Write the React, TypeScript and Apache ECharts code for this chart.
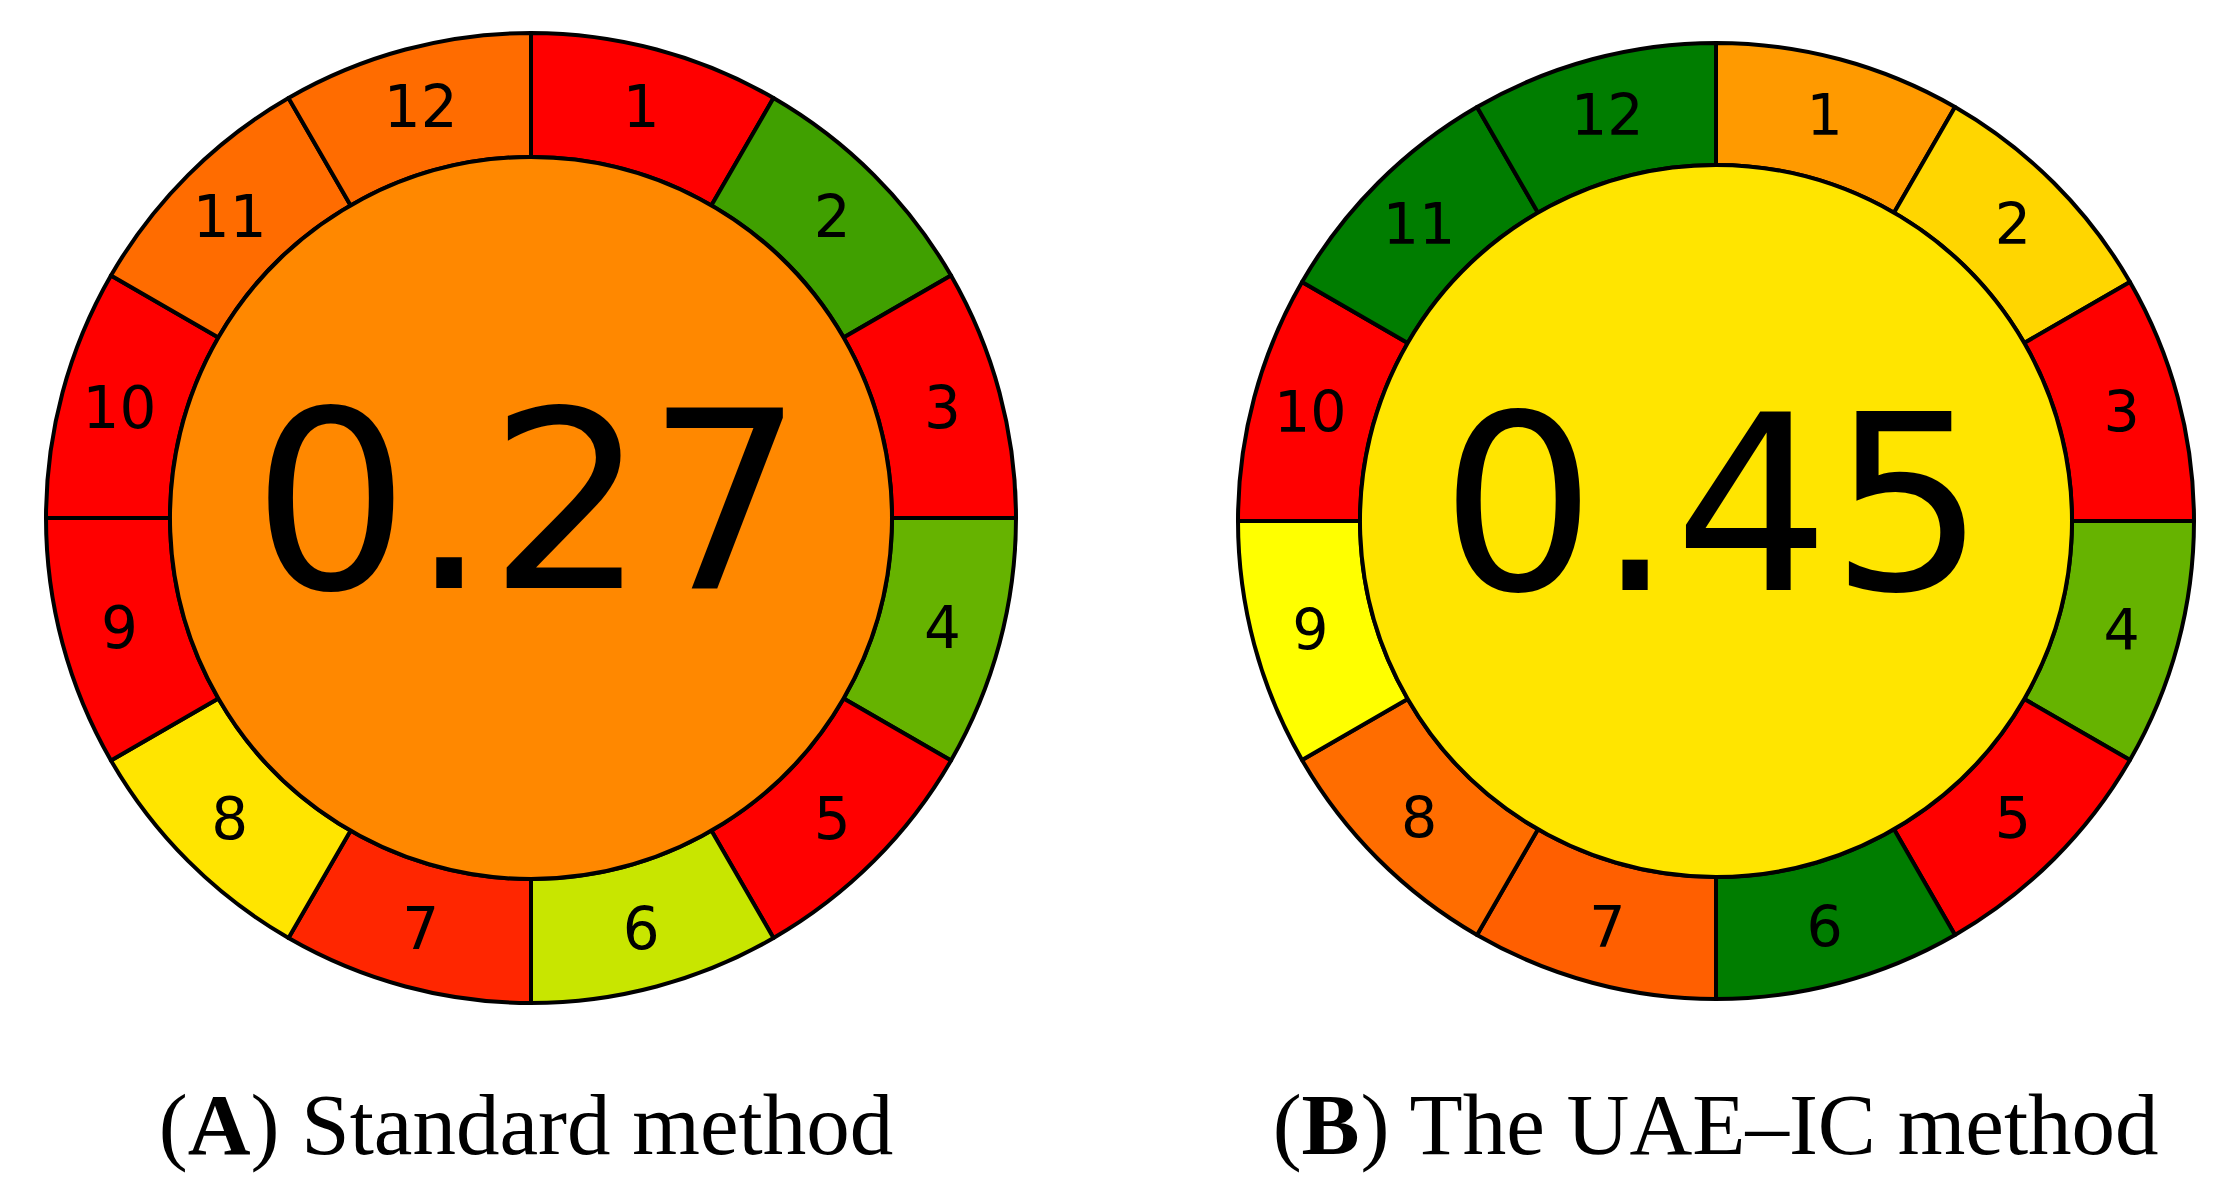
import React, { useEffect, useRef } from "react";
import * as echarts from "echarts";

// Segment names (criteria 1..12), drawn clockwise from 12 o'clock
const segmentNames = ["1", "2", "3", "4", "5", "6", "7", "8", "9", "10", "11", "12"];
// All criteria weighted equally (equal slice sizes)
const segmentWeights = [1, 1, 1, 1, 1, 1, 1, 1, 1, 1, 1, 1];

// (A) Standard method
const scoreA = "0.27";
const centerColorA = "#ff8800";
const segmentColorsA = [
  "#ff0000", "#40a000", "#ff0000", "#66b300", "#ff0000", "#c8e600",
  "#ff2600", "#ffe500", "#ff0000", "#ff0000", "#ff6c00", "#ff6c00",
];
const captionA = { label: "A", text: ") Standard method" };

// (B) The UAE–IC method
const scoreB = "0.45";
const centerColorB = "#ffe500";
const segmentColorsB = [
  "#ff9a00", "#ffd600", "#ff0000", "#66b300", "#ff0000", "#007d00",
  "#ff5f00", "#ff6d00", "#ffff00", "#ff0000", "#007d00", "#007d00",
];
const captionB = { label: "B", text: ") The UAE\u2013IC method" };

function buildPies(
  center: [number, number],
  rInner: number,
  rOuter: number,
  score: string,
  centerColor: string,
  colors: string[],
  labelSize: number,
  scoreSize: number
) {
  const ring = {
    type: "pie",
    center,
    radius: [rInner, rOuter],
    startAngle: 90,
    clockwise: true,
    silent: true,
    emphasis: { disabled: true },
    avoidLabelOverlap: false,
    itemStyle: { borderColor: "#000", borderWidth: 4 },
    label: {
      show: true,
      position: "inside",
      formatter: "{b}",
      color: "#000",
      fontSize: labelSize,
      fontFamily: "DejaVu Sans",
      textBorderWidth: 0,
    },
    labelLine: { show: false },
    data: segmentNames.map((n, i) => ({
      name: n,
      value: segmentWeights[i],
      itemStyle: { color: colors[i] },
    })),
  };
  const disk = {
    type: "pie",
    center,
    radius: [0, rInner],
    silent: true,
    emphasis: { disabled: true },
    itemStyle: { borderColor: "#000", borderWidth: 4 },
    label: {
      show: true,
      position: "center",
      formatter: "{b}",
      color: "#000",
      fontSize: scoreSize,
      fontFamily: "DejaVu Sans",
      offset: [-3, -16],
    },
    labelLine: { show: false },
    data: [{ name: score, value: 1, itemStyle: { color: centerColor } }],
  };
  return [ring, disk];
}

function caption(x: number, y: number, c: { label: string; text: string }) {
  const base = { fontFamily: "Liberation Serif", fontSize: 87, color: "#000" };
  return {
    type: "text",
    x,
    y,
    silent: true,
    style: {
      text: `{p|(}{b|${c.label}}{p|${c.text}}`,
      align: "center",
      verticalAlign: "middle",
      fontFamily: "Liberation Serif",
      fontSize: 87,
      fill: "#000",
      rich: {
        p: { ...base },
        b: { ...base, fontWeight: "bold" },
      },
    },
  };
}

export default function App() {
  const ref = useRef<HTMLDivElement>(null);
  useEffect(() => {
    if (!ref.current) return;
    const chart = echarts.init(ref.current, null, { renderer: "svg" });
    chart.setOption({
      animation: false,
      backgroundColor: "#fff",
      series: [
        ...buildPies([531, 518], 361, 485, scoreA, centerColorA, segmentColorsA, 58, 248),
        ...buildPies([1716, 521], 356, 478, scoreB, centerColorB, segmentColorsB, 57, 245),
      ],
      graphic: [caption(526, 1124, captionA), caption(1716, 1124, captionB)],
    });
    return () => chart.dispose();
  }, []);
  return (
    <div
      ref={ref}
      style={{ position: "fixed", left: 0, top: 0, width: 2237, height: 1200, background: "#fff" }}
    />
  );
}
